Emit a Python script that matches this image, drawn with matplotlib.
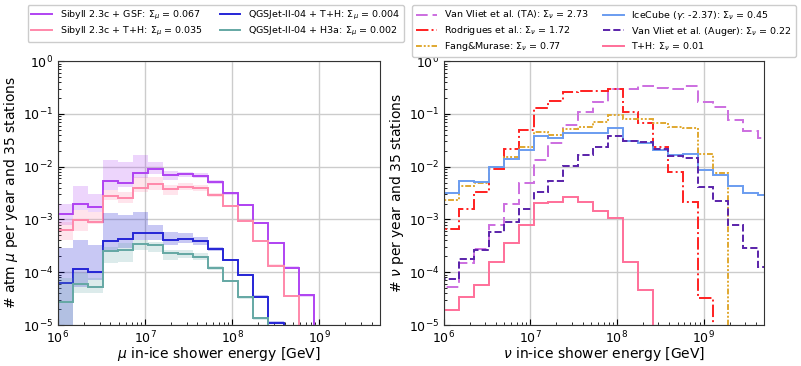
import numpy as np
import matplotlib
matplotlib.use("Agg")
import matplotlib.pyplot as plt

# ---- bin edges (log10 energy in GeV) ----
log_edges = 6 + 0.1727 * np.arange(26)

# ---- left panel: atmospheric muons, log10(events) per bin ----
sib_gsf = [-2.895, -2.706, -2.756, -2.263, -2.301, -2.112, -2.049, -2.162, -2.131, -2.169,
           -2.295, -2.504, -2.725, -3.060, -3.439, -3.913, -4.437]
sib_gsf_hi = [-2.706, -2.364, -2.516, -1.872, -1.903, -1.777, -1.903, -2.074, -2.093, -2.112,
              -2.251, -2.480, -2.700, -3.040, -3.420, -3.890, -4.410]
sib_gsf_lo = [-3.104, -2.819, -2.851, -2.440, -2.390, -2.219, -2.137, -2.251, -2.200, -2.219,
              -2.327, -2.530, -2.750, -3.080, -3.460, -3.940, -4.460]

sib_th = [-3.198, -3.009, -3.047, -2.554, -2.598, -2.409, -2.333, -2.421, -2.377, -2.402,
          -2.535, -2.744, -3.028, -3.407, -3.875, -4.450]
sib_th_hi = [-3.040, -2.819, -2.851, -2.440, -2.472, -2.200, -2.188, -2.346, -2.314, -2.346,
             -2.490, -2.720, -3.000, -3.390, -3.850, -4.430]
sib_th_lo = [-3.388, -3.211, -3.085, -2.630, -2.693, -2.472, -2.440, -2.535, -2.440, -2.453,
             -2.580, -2.770, -3.050, -3.430, -3.900, -4.470]

qgs_th = [-4.196, -3.937, -3.988, -3.400, -3.375, -3.261, -3.249, -3.388, -3.369, -3.407,
          -3.558, -3.767, -4.058, -4.462, -4.955]
qgs_th_hi = [-3.546, -3.388, -3.483, -2.870, -2.914, -2.851, -3.104, -3.230, -3.261, -3.325,
             -3.520, -3.740, -4.030, -4.440, -4.930]
qgs_th_lo = [-6.000, -4.272, -4.146, -3.609, -3.546, -3.388, -3.388, -3.483, -3.451, -3.483,
             -3.600, -3.790, -4.080, -4.480, -4.980]

qgs_h3a = [-4.557, -4.222, -4.285, -3.596, -3.577, -3.470, -3.489, -3.641, -3.653, -3.716,
           -3.912, -4.165, -4.475, -4.873]
qgs_h3a_hi = [-4.100, -4.020, -4.114, -3.514, -3.451, -3.388, -3.420, -3.577, -3.577, -3.641,
              -3.880, -4.140, -4.450, -4.850]
qgs_h3a_lo = [-6.000, -4.399, -4.399, -3.830, -3.798, -3.577, -3.609, -3.767, -3.735, -3.767,
              -3.950, -4.190, -4.500, -4.900]

mu_labels = [r"Sibyll 2.3c + GSF: $\Sigma_\mu$ = 0.067",
             r"Sibyll 2.3c + T+H: $\Sigma_\mu$ = 0.035",
             r"QGSJet-II-04 + T+H: $\Sigma_\mu$ = 0.004",
             r"QGSJet-II-04 + H3a: $\Sigma_\mu$ = 0.002"]

# ---- right panel: neutrinos, log10(events) per bin ----
vv_ta = [-4.278, -3.823, -3.551, -3.108, -2.709, -2.316, -1.873, -1.544, -1.209, -0.956,
         -0.767, -0.527, -0.527, -0.464, -0.502, -0.527, -0.464, -0.767, -0.874, -1.114,
         -1.317, -1.462]
rodrigues = [-3.184, -2.804, -2.475, -2.044, -1.665, -1.304, -0.892, -0.747, -0.576, -0.563,
             -0.558, -0.527, -0.969, -1.177, -1.632, -2.093, -2.665, -4.487]
fang = [-2.633, -2.367, -2.304, -2.013, -1.810, -1.633, -1.348, -1.399, -1.291, -1.241,
        -1.146, -1.020, -1.101, -1.100, -1.178, -1.247, -1.272, -1.765, -2.125]
icecube = [-2.494, -2.272, -2.285, -2.013, -1.854, -1.684, -1.411, -1.449, -1.367, -1.367,
           -1.354, -1.272, -1.506, -1.550, -1.677, -1.785, -1.756, -2.062, -2.150, -2.365,
           -2.491, -2.535]
vv_auger = [-4.120, -3.741, -3.582, -3.234, -3.044, -2.810, -2.475, -2.266, -1.987, -1.778,
            -1.620, -1.418, -1.506, -1.530, -1.674, -1.800, -1.841, -2.392, -2.652, -3.108,
            -3.538, -3.899]
th_nu = [-4.709, -4.468, -4.247, -3.804, -3.443, -3.108, -2.696, -2.665, -2.570, -2.665,
         -2.842, -2.968, -3.804, -4.342]

nu_labels = [r"Van Vliet et al. (TA): $\Sigma_\nu$ = 2.73",
             r"Rodrigues et al.: $\Sigma_\nu$ = 1.72",
             r"Fang&Murase: $\Sigma_\nu$ = 0.77",
             r"IceCube ($\gamma$: -2.37): $\Sigma_\nu$ = 0.45",
             r"Van Vliet et al. (Auger): $\Sigma_\nu$ = 0.22",
             r"T+H: $\Sigma_\nu$ = 0.01"]

edges = 10 ** log_edges
BASE = 1e-12

fig = plt.figure(figsize=(8.01, 3.66), dpi=100)
axL = fig.add_axes([0.0724, 0.112, 0.402, 0.721])
axR = fig.add_axes([0.554, 0.112, 0.400, 0.721])


def draw(ax, vals, color, ls="-", lw=1.4, label=None, hi=None, lo=None, alpha=0.22):
    v = 10 ** np.asarray(vals)
    n = len(v)
    if hi is not None:
        ax.stairs(10 ** np.asarray(hi), edges[:n + 1], baseline=10 ** np.asarray(lo),
                  fill=True, color=color, alpha=alpha, lw=0)
    ax.stairs(v, edges[:n + 1], baseline=BASE, color=color, ls=ls, lw=lw, label=label)


mu_colors = ["#b043f2", "#ff88aa", "#2525d6", "#64a8a4"]
draw(axL, sib_gsf, mu_colors[0], label=mu_labels[0], hi=sib_gsf_hi, lo=sib_gsf_lo)
draw(axL, sib_th, mu_colors[1], label=mu_labels[1], hi=sib_th_hi, lo=sib_th_lo)
draw(axL, qgs_th, mu_colors[2], label=mu_labels[2], hi=qgs_th_hi, lo=qgs_th_lo, alpha=0.25)
draw(axL, qgs_h3a, mu_colors[3], label=mu_labels[3], hi=qgs_h3a_hi, lo=qgs_h3a_lo)

draw(axR, vv_ta, "#cc6ee0", ls=(0, (6, 2.5)), label=nu_labels[0])
draw(axR, rodrigues, "#ff2020", ls="-.", label=nu_labels[1])
draw(axR, fang, "#e0a830", ls=(0, (3, 1, 1, 1, 1, 1)), label=nu_labels[2])
draw(axR, icecube, "#6a9cf0", label=nu_labels[3])
draw(axR, vv_auger, "#5a22aa", ls="--", label=nu_labels[4])
draw(axR, th_nu, "#ff6f99", label=nu_labels[5])

for ax, xl, yl in [(axL, r"$\mu$ in-ice shower energy [GeV]", r"# atm $\mu$ per year and 35 stations"),
                   (axR, r"$\nu$ in-ice shower energy [GeV]", r"# $\nu$ per year and 35 stations")]:
    ax.set_xscale("log")
    ax.set_yscale("log")
    ax.set_xlim(1e6, 5e9)
    ax.set_ylim(1e-5, 1)
    ax.grid(True, which="major", color="#cccccc", lw=1)
    ax.set_axisbelow(True)
    ax.tick_params(which="both", direction="in", labelsize=9)
    ax.tick_params(which="major", length=4)
    ax.tick_params(which="minor", length=2)
    for s in ax.spines.values():
        s.set_color("#333333")
    ax.set_xlabel(xl, fontsize=10, labelpad=-1)
    ax.set_ylabel(yl, fontsize=10, labelpad=2)

leg_kw = dict(loc="upper center", ncol=2, fontsize=6.8, framealpha=1, edgecolor="#cccccc",
              handlelength=2.2, borderpad=0.4, labelspacing=0.3)
axL.legend(bbox_to_anchor=(0.49, 1.23), columnspacing=1.8, **leg_kw)
axR.legend(bbox_to_anchor=(0.5, 1.23), columnspacing=1.5, **leg_kw)

fig.savefig("out.png", dpi=100)
